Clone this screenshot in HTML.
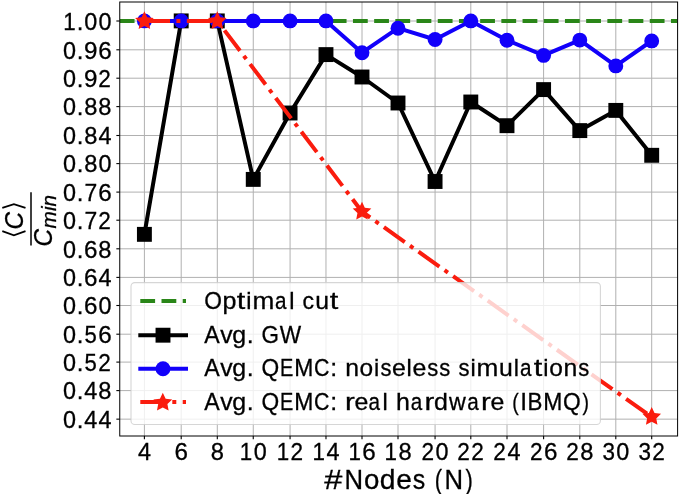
<!DOCTYPE html><html><head><meta charset="utf-8"><style>html,body{margin:0;padding:0;background:#fff;}svg{display:block;will-change:transform;}text{stroke:#000;stroke-width:0.3px;}</style></head><body><svg width="685" height="494" viewBox="0 0 685 494" font-family="Liberation Sans, sans-serif">
<rect width="685" height="494" fill="#fff"/>
<g stroke="#b0b0b0" stroke-width="1.0"><line x1="144.40" y1="2.0" x2="144.40" y2="436.0"/><line x1="181.20" y1="2.0" x2="181.20" y2="436.0"/><line x1="217.30" y1="2.0" x2="217.30" y2="436.0"/><line x1="253.25" y1="2.0" x2="253.25" y2="436.0"/><line x1="290.07" y1="2.0" x2="290.07" y2="436.0"/><line x1="325.98" y1="2.0" x2="325.98" y2="436.0"/><line x1="362.00" y1="2.0" x2="362.00" y2="436.0"/><line x1="398.00" y1="2.0" x2="398.00" y2="436.0"/><line x1="435.07" y1="2.0" x2="435.07" y2="436.0"/><line x1="470.80" y1="2.0" x2="470.80" y2="436.0"/><line x1="507.00" y1="2.0" x2="507.00" y2="436.0"/><line x1="543.60" y1="2.0" x2="543.60" y2="436.0"/><line x1="579.80" y1="2.0" x2="579.80" y2="436.0"/><line x1="615.80" y1="2.0" x2="615.80" y2="436.0"/><line x1="651.70" y1="2.0" x2="651.70" y2="436.0"/><line x1="119.75" y1="419.15" x2="677.6" y2="419.15"/><line x1="119.75" y1="390.60" x2="677.6" y2="390.60"/><line x1="119.75" y1="362.10" x2="677.6" y2="362.10"/><line x1="119.75" y1="334.20" x2="677.6" y2="334.20"/><line x1="119.75" y1="305.50" x2="677.6" y2="305.50"/><line x1="119.75" y1="277.40" x2="677.6" y2="277.40"/><line x1="119.75" y1="248.80" x2="677.6" y2="248.80"/><line x1="119.75" y1="220.20" x2="677.6" y2="220.20"/><line x1="119.75" y1="192.10" x2="677.6" y2="192.10"/><line x1="119.75" y1="163.60" x2="677.6" y2="163.60"/><line x1="119.75" y1="135.50" x2="677.6" y2="135.50"/><line x1="119.75" y1="106.60" x2="677.6" y2="106.60"/><line x1="119.75" y1="78.20" x2="677.6" y2="78.20"/><line x1="119.75" y1="49.80" x2="677.6" y2="49.80"/><line x1="119.75" y1="21.00" x2="677.6" y2="21.00"/></g>
<defs><clipPath id="ax"><rect x="119.75" y="2.0" width="557.85" height="434.0"/></clipPath></defs>
<g clip-path="url(#ax)">
<line x1="119.75" y1="21.00" x2="677.6" y2="21.00" stroke="#2a8618" stroke-width="4.0" stroke-dasharray="14.80 6.40"/>
<polyline points="144.40,234.35 181.20,20.90 217.30,20.90 253.25,179.40 290.07,113.00 325.98,54.60 362.00,77.00 398.00,103.00 435.07,181.50 470.80,102.00 507.00,125.70 543.60,89.60 579.80,130.60 615.80,110.40 651.70,155.30" fill="none" stroke="#000" stroke-width="4.0" stroke-linejoin="round" stroke-linecap="square"/>
<rect x="136.95" y="226.90" width="14.9" height="14.9" fill="#000"/>
<rect x="173.75" y="13.45" width="14.9" height="14.9" fill="#000"/>
<rect x="209.85" y="13.45" width="14.9" height="14.9" fill="#000"/>
<rect x="245.80" y="171.95" width="14.9" height="14.9" fill="#000"/>
<rect x="282.62" y="105.55" width="14.9" height="14.9" fill="#000"/>
<rect x="318.53" y="47.15" width="14.9" height="14.9" fill="#000"/>
<rect x="354.55" y="69.55" width="14.9" height="14.9" fill="#000"/>
<rect x="390.55" y="95.55" width="14.9" height="14.9" fill="#000"/>
<rect x="427.62" y="174.05" width="14.9" height="14.9" fill="#000"/>
<rect x="463.35" y="94.55" width="14.9" height="14.9" fill="#000"/>
<rect x="499.55" y="118.25" width="14.9" height="14.9" fill="#000"/>
<rect x="536.15" y="82.15" width="14.9" height="14.9" fill="#000"/>
<rect x="572.35" y="123.15" width="14.9" height="14.9" fill="#000"/>
<rect x="608.35" y="102.95" width="14.9" height="14.9" fill="#000"/>
<rect x="644.25" y="147.85" width="14.9" height="14.9" fill="#000"/>
<polyline points="144.40,20.90 181.20,20.90 217.30,20.90 253.25,20.90 290.07,20.90 325.98,20.90 362.00,52.70 398.00,28.20 435.07,39.50 470.80,20.90 507.00,40.20 543.60,55.40 579.80,40.10 615.80,65.90 651.70,40.90" fill="none" stroke="#1200fa" stroke-width="4.0" stroke-linejoin="round" stroke-linecap="square"/>
<circle cx="144.40" cy="20.90" r="7.45" fill="#1200fa"/>
<circle cx="181.20" cy="20.90" r="7.45" fill="#1200fa"/>
<circle cx="217.30" cy="20.90" r="7.45" fill="#1200fa"/>
<circle cx="253.25" cy="20.90" r="7.45" fill="#1200fa"/>
<circle cx="290.07" cy="20.90" r="7.45" fill="#1200fa"/>
<circle cx="325.98" cy="20.90" r="7.45" fill="#1200fa"/>
<circle cx="362.00" cy="52.70" r="7.45" fill="#1200fa"/>
<circle cx="398.00" cy="28.20" r="7.45" fill="#1200fa"/>
<circle cx="435.07" cy="39.50" r="7.45" fill="#1200fa"/>
<circle cx="470.80" cy="20.90" r="7.45" fill="#1200fa"/>
<circle cx="507.00" cy="40.20" r="7.45" fill="#1200fa"/>
<circle cx="543.60" cy="55.40" r="7.45" fill="#1200fa"/>
<circle cx="579.80" cy="40.10" r="7.45" fill="#1200fa"/>
<circle cx="615.80" cy="65.90" r="7.45" fill="#1200fa"/>
<circle cx="651.70" cy="40.90" r="7.45" fill="#1200fa"/>
<polyline points="144.40,20.90 181.20,20.90 217.30,20.90 362.00,211.70 651.70,416.90" fill="none" stroke="#fa1c0e" stroke-width="4.0" stroke-linejoin="round" stroke-dasharray="25.60 6.40 4.00 6.40"/>
<polygon points="144.40,11.30 147.22,17.22 153.72,18.07 148.97,22.58 150.16,29.03 144.40,25.90 138.64,29.03 139.83,22.58 135.08,18.07 141.58,17.22" fill="#fa1c0e"/>
<polygon points="217.30,11.30 220.12,17.22 226.62,18.07 221.87,22.58 223.06,29.03 217.30,25.90 211.54,29.03 212.73,22.58 207.98,18.07 214.48,17.22" fill="#fa1c0e"/>
<polygon points="362.00,201.80 364.82,207.72 371.32,208.57 366.57,213.08 367.76,219.53 362.00,216.40 356.24,219.53 357.43,213.08 352.68,208.57 359.18,207.72" fill="#fa1c0e"/>
<polygon points="651.70,407.10 654.52,413.02 661.02,413.87 656.27,418.38 657.46,424.83 651.70,421.70 645.94,424.83 647.13,418.38 642.38,413.87 648.88,413.02" fill="#fa1c0e"/>
</g>
<rect x="131" y="282.6" width="469.4" height="141.89999999999998" rx="3.8" fill="#fff" fill-opacity="0.8" stroke="#cccccc" stroke-opacity="0.8" stroke-width="1.1"/>
<line x1="140.3" y1="300.9" x2="186.0" y2="300.9" stroke="#2a8618" stroke-width="4.0" stroke-dasharray="14.80 6.40"/>
<line x1="140.3" y1="335.2" x2="186.0" y2="335.2" stroke="#000" stroke-width="4.0" stroke-linecap="square"/>
<rect x="155.55" y="327.75" width="14.9" height="14.9" fill="#000"/>
<line x1="140.3" y1="368.7" x2="186.0" y2="368.7" stroke="#1200fa" stroke-width="4.0" stroke-linecap="square"/>
<circle cx="163" cy="368.7" r="7.45" fill="#1200fa"/>
<line x1="140.3" y1="402.1" x2="186.0" y2="402.1" stroke="#fa1c0e" stroke-width="4.0" stroke-dasharray="25.60 6.40 4.00 6.40"/>
<polygon points="162.80,392.70 165.65,398.68 172.22,399.54 167.41,404.10 168.62,410.61 162.80,407.45 156.98,410.61 158.19,404.10 153.38,399.54 159.95,398.68" fill="#fa1c0e"/>
<text y="308.80" font-size="24.33" fill="#000"><tspan x="204.21" textLength="17.69" lengthAdjust="spacingAndGlyphs">O</tspan><tspan x="222.58" textLength="13.92" lengthAdjust="spacingAndGlyphs">p</tspan><tspan x="236.86" textLength="8.54" lengthAdjust="spacingAndGlyphs">t</tspan><tspan x="246.32" textLength="5.22" lengthAdjust="spacingAndGlyphs">i</tspan><tspan x="252.46" textLength="21.83" lengthAdjust="spacingAndGlyphs">m</tspan><tspan x="275.02" textLength="11.50" lengthAdjust="spacingAndGlyphs">a</tspan><tspan x="289.19" textLength="5.22" lengthAdjust="spacingAndGlyphs">l</tspan> <tspan x="302.60" textLength="11.54" lengthAdjust="spacingAndGlyphs">c</tspan><tspan x="315.30" textLength="13.79" lengthAdjust="spacingAndGlyphs">u</tspan><tspan x="329.69" textLength="8.54" lengthAdjust="spacingAndGlyphs">t</tspan></text>
<text y="342.50" font-size="24.33" fill="#000"><tspan x="204.13" textLength="15.45" lengthAdjust="spacingAndGlyphs">A</tspan><tspan x="220.33" textLength="12.41" lengthAdjust="spacingAndGlyphs">v</tspan><tspan x="232.22" textLength="13.90" lengthAdjust="spacingAndGlyphs">g</tspan><tspan x="246.78" textLength="6.91" lengthAdjust="spacingAndGlyphs">.</tspan> <tspan x="261.38" textLength="17.45" lengthAdjust="spacingAndGlyphs">G</tspan><tspan x="279.71" textLength="21.40" lengthAdjust="spacingAndGlyphs">W</tspan></text>
<text y="376.20" font-size="24.33" fill="#000"><tspan x="204.13" textLength="15.45" lengthAdjust="spacingAndGlyphs">A</tspan><tspan x="220.33" textLength="12.41" lengthAdjust="spacingAndGlyphs">v</tspan><tspan x="232.22" textLength="13.90" lengthAdjust="spacingAndGlyphs">g</tspan><tspan x="246.78" textLength="6.91" lengthAdjust="spacingAndGlyphs">.</tspan> <tspan x="261.43" textLength="17.69" lengthAdjust="spacingAndGlyphs">Q</tspan><tspan x="279.94" textLength="13.30" lengthAdjust="spacingAndGlyphs">E</tspan><tspan x="294.23" textLength="19.10" lengthAdjust="spacingAndGlyphs">M</tspan><tspan x="313.91" textLength="15.42" lengthAdjust="spacingAndGlyphs">C</tspan><tspan x="330.18" textLength="6.91" lengthAdjust="spacingAndGlyphs">:</tspan> <tspan x="345.26" textLength="13.79" lengthAdjust="spacingAndGlyphs">n</tspan><tspan x="359.64" textLength="13.60" lengthAdjust="spacingAndGlyphs">o</tspan><tspan x="374.06" textLength="5.22" lengthAdjust="spacingAndGlyphs">i</tspan><tspan x="380.49" textLength="11.02" lengthAdjust="spacingAndGlyphs">s</tspan><tspan x="392.05" textLength="13.82" lengthAdjust="spacingAndGlyphs">e</tspan><tspan x="406.57" textLength="5.22" lengthAdjust="spacingAndGlyphs">l</tspan><tspan x="412.60" textLength="13.82" lengthAdjust="spacingAndGlyphs">e</tspan><tspan x="427.16" textLength="11.02" lengthAdjust="spacingAndGlyphs">s</tspan><tspan x="439.15" textLength="11.02" lengthAdjust="spacingAndGlyphs">s</tspan> <tspan x="458.44" textLength="11.02" lengthAdjust="spacingAndGlyphs">s</tspan><tspan x="470.39" textLength="5.22" lengthAdjust="spacingAndGlyphs">i</tspan><tspan x="476.53" textLength="21.83" lengthAdjust="spacingAndGlyphs">m</tspan><tspan x="498.93" textLength="13.79" lengthAdjust="spacingAndGlyphs">u</tspan><tspan x="513.75" textLength="5.22" lengthAdjust="spacingAndGlyphs">l</tspan><tspan x="520.06" textLength="11.50" lengthAdjust="spacingAndGlyphs">a</tspan><tspan x="533.80" textLength="8.54" lengthAdjust="spacingAndGlyphs">t</tspan><tspan x="543.26" textLength="5.22" lengthAdjust="spacingAndGlyphs">i</tspan><tspan x="549.30" textLength="13.60" lengthAdjust="spacingAndGlyphs">o</tspan><tspan x="563.57" textLength="13.79" lengthAdjust="spacingAndGlyphs">n</tspan><tspan x="578.34" textLength="11.02" lengthAdjust="spacingAndGlyphs">s</tspan></text>
<text y="409.90" font-size="24.33" fill="#000"><tspan x="204.13" textLength="15.45" lengthAdjust="spacingAndGlyphs">A</tspan><tspan x="220.33" textLength="12.41" lengthAdjust="spacingAndGlyphs">v</tspan><tspan x="232.22" textLength="13.90" lengthAdjust="spacingAndGlyphs">g</tspan><tspan x="246.78" textLength="6.91" lengthAdjust="spacingAndGlyphs">.</tspan> <tspan x="261.43" textLength="17.69" lengthAdjust="spacingAndGlyphs">Q</tspan><tspan x="279.94" textLength="13.30" lengthAdjust="spacingAndGlyphs">E</tspan><tspan x="294.23" textLength="19.10" lengthAdjust="spacingAndGlyphs">M</tspan><tspan x="313.91" textLength="15.42" lengthAdjust="spacingAndGlyphs">C</tspan><tspan x="330.18" textLength="6.91" lengthAdjust="spacingAndGlyphs">:</tspan> <tspan x="344.95" textLength="9.81" lengthAdjust="spacingAndGlyphs">r</tspan><tspan x="354.49" textLength="13.82" lengthAdjust="spacingAndGlyphs">e</tspan><tspan x="368.42" textLength="11.50" lengthAdjust="spacingAndGlyphs">a</tspan><tspan x="382.60" textLength="5.22" lengthAdjust="spacingAndGlyphs">l</tspan> <tspan x="396.07" textLength="13.89" lengthAdjust="spacingAndGlyphs">h</tspan><tspan x="410.80" textLength="11.50" lengthAdjust="spacingAndGlyphs">a</tspan><tspan x="424.52" textLength="9.81" lengthAdjust="spacingAndGlyphs">r</tspan><tspan x="434.06" textLength="13.90" lengthAdjust="spacingAndGlyphs">d</tspan><tspan x="449.04" textLength="16.79" lengthAdjust="spacingAndGlyphs">w</tspan><tspan x="467.35" textLength="11.50" lengthAdjust="spacingAndGlyphs">a</tspan><tspan x="481.08" textLength="9.81" lengthAdjust="spacingAndGlyphs">r</tspan><tspan x="490.61" textLength="13.82" lengthAdjust="spacingAndGlyphs">e</tspan> <tspan x="512.13" textLength="6.47" lengthAdjust="spacingAndGlyphs">(</tspan><tspan x="520.34" textLength="6.76" lengthAdjust="spacingAndGlyphs">I</tspan><tspan x="527.54" textLength="14.90" lengthAdjust="spacingAndGlyphs">B</tspan><tspan x="543.27" textLength="19.10" lengthAdjust="spacingAndGlyphs">M</tspan><tspan x="562.95" textLength="17.69" lengthAdjust="spacingAndGlyphs">Q</tspan><tspan x="582.57" textLength="6.47" lengthAdjust="spacingAndGlyphs">)</tspan></text>
<rect x="119.75" y="2.0" width="557.85" height="434.0" fill="none" stroke="#000" stroke-width="1.0"/>
<g stroke="#000" stroke-width="1.1"><line x1="144.40" y1="436.0" x2="144.40" y2="439.3"/><line x1="181.20" y1="436.0" x2="181.20" y2="439.3"/><line x1="217.30" y1="436.0" x2="217.30" y2="439.3"/><line x1="253.25" y1="436.0" x2="253.25" y2="439.3"/><line x1="290.07" y1="436.0" x2="290.07" y2="439.3"/><line x1="325.98" y1="436.0" x2="325.98" y2="439.3"/><line x1="362.00" y1="436.0" x2="362.00" y2="439.3"/><line x1="398.00" y1="436.0" x2="398.00" y2="439.3"/><line x1="435.07" y1="436.0" x2="435.07" y2="439.3"/><line x1="470.80" y1="436.0" x2="470.80" y2="439.3"/><line x1="507.00" y1="436.0" x2="507.00" y2="439.3"/><line x1="543.60" y1="436.0" x2="543.60" y2="439.3"/><line x1="579.80" y1="436.0" x2="579.80" y2="439.3"/><line x1="615.80" y1="436.0" x2="615.80" y2="439.3"/><line x1="651.70" y1="436.0" x2="651.70" y2="439.3"/><line x1="116.35" y1="419.15" x2="119.75" y2="419.15"/><line x1="116.35" y1="390.60" x2="119.75" y2="390.60"/><line x1="116.35" y1="362.10" x2="119.75" y2="362.10"/><line x1="116.35" y1="334.20" x2="119.75" y2="334.20"/><line x1="116.35" y1="305.50" x2="119.75" y2="305.50"/><line x1="116.35" y1="277.40" x2="119.75" y2="277.40"/><line x1="116.35" y1="248.80" x2="119.75" y2="248.80"/><line x1="116.35" y1="220.20" x2="119.75" y2="220.20"/><line x1="116.35" y1="192.10" x2="119.75" y2="192.10"/><line x1="116.35" y1="163.60" x2="119.75" y2="163.60"/><line x1="116.35" y1="135.50" x2="119.75" y2="135.50"/><line x1="116.35" y1="106.60" x2="119.75" y2="106.60"/><line x1="116.35" y1="78.20" x2="119.75" y2="78.20"/><line x1="116.35" y1="49.80" x2="119.75" y2="49.80"/><line x1="116.35" y1="21.00" x2="119.75" y2="21.00"/></g>
<text y="459.70" font-size="23.49" fill="#000"><tspan x="137.88" textLength="13.02" lengthAdjust="spacingAndGlyphs">4</tspan></text>
<text y="459.70" font-size="23.49" fill="#000"><tspan x="174.46" textLength="13.47" lengthAdjust="spacingAndGlyphs">6</tspan></text>
<text y="459.70" font-size="23.49" fill="#000"><tspan x="210.72" textLength="13.16" lengthAdjust="spacingAndGlyphs">8</tspan></text>
<text y="459.70" font-size="23.49" fill="#000"><tspan x="239.86" textLength="12.43" lengthAdjust="spacingAndGlyphs">1</tspan><tspan x="253.80" textLength="13.01" lengthAdjust="spacingAndGlyphs">0</tspan></text>
<text y="459.70" font-size="23.49" fill="#000"><tspan x="276.68" textLength="12.43" lengthAdjust="spacingAndGlyphs">1</tspan><tspan x="290.56" textLength="12.55" lengthAdjust="spacingAndGlyphs">2</tspan></text>
<text y="459.70" font-size="23.49" fill="#000"><tspan x="312.59" textLength="12.43" lengthAdjust="spacingAndGlyphs">1</tspan><tspan x="326.53" textLength="13.02" lengthAdjust="spacingAndGlyphs">4</tspan></text>
<text y="459.70" font-size="23.49" fill="#000"><tspan x="348.61" textLength="12.43" lengthAdjust="spacingAndGlyphs">1</tspan><tspan x="362.32" textLength="13.47" lengthAdjust="spacingAndGlyphs">6</tspan></text>
<text y="459.70" font-size="23.49" fill="#000"><tspan x="384.61" textLength="12.43" lengthAdjust="spacingAndGlyphs">1</tspan><tspan x="398.48" textLength="13.16" lengthAdjust="spacingAndGlyphs">8</tspan></text>
<text y="459.70" font-size="23.49" fill="#000"><tspan x="421.44" textLength="12.55" lengthAdjust="spacingAndGlyphs">2</tspan><tspan x="435.62" textLength="13.01" lengthAdjust="spacingAndGlyphs">0</tspan></text>
<text y="459.70" font-size="23.49" fill="#000"><tspan x="457.17" textLength="12.55" lengthAdjust="spacingAndGlyphs">2</tspan><tspan x="471.29" textLength="12.55" lengthAdjust="spacingAndGlyphs">2</tspan></text>
<text y="459.70" font-size="23.49" fill="#000"><tspan x="493.37" textLength="12.55" lengthAdjust="spacingAndGlyphs">2</tspan><tspan x="507.55" textLength="13.02" lengthAdjust="spacingAndGlyphs">4</tspan></text>
<text y="459.70" font-size="23.49" fill="#000"><tspan x="529.97" textLength="12.55" lengthAdjust="spacingAndGlyphs">2</tspan><tspan x="543.92" textLength="13.47" lengthAdjust="spacingAndGlyphs">6</tspan></text>
<text y="459.70" font-size="23.49" fill="#000"><tspan x="566.17" textLength="12.55" lengthAdjust="spacingAndGlyphs">2</tspan><tspan x="580.28" textLength="13.16" lengthAdjust="spacingAndGlyphs">8</tspan></text>
<text y="459.70" font-size="23.49" fill="#000"><tspan x="602.51" textLength="12.50" lengthAdjust="spacingAndGlyphs">3</tspan><tspan x="616.35" textLength="13.01" lengthAdjust="spacingAndGlyphs">0</tspan></text>
<text y="459.70" font-size="23.49" fill="#000"><tspan x="638.41" textLength="12.50" lengthAdjust="spacingAndGlyphs">3</tspan><tspan x="652.19" textLength="12.55" lengthAdjust="spacingAndGlyphs">2</tspan></text>
<text y="427.85" font-size="23.49" fill="#000"><tspan x="63.12" textLength="13.01" lengthAdjust="spacingAndGlyphs">0</tspan><tspan x="76.88" textLength="6.67" lengthAdjust="spacingAndGlyphs">.</tspan><tspan x="84.30" textLength="13.02" lengthAdjust="spacingAndGlyphs">4</tspan><tspan x="98.42" textLength="13.02" lengthAdjust="spacingAndGlyphs">4</tspan></text>
<text y="399.30" font-size="23.49" fill="#000"><tspan x="63.12" textLength="13.01" lengthAdjust="spacingAndGlyphs">0</tspan><tspan x="76.88" textLength="6.67" lengthAdjust="spacingAndGlyphs">.</tspan><tspan x="84.30" textLength="13.02" lengthAdjust="spacingAndGlyphs">4</tspan><tspan x="98.35" textLength="13.16" lengthAdjust="spacingAndGlyphs">8</tspan></text>
<text y="370.80" font-size="23.49" fill="#000"><tspan x="63.12" textLength="13.01" lengthAdjust="spacingAndGlyphs">0</tspan><tspan x="76.88" textLength="6.67" lengthAdjust="spacingAndGlyphs">.</tspan><tspan x="84.58" textLength="12.28" lengthAdjust="spacingAndGlyphs">5</tspan><tspan x="98.37" textLength="12.55" lengthAdjust="spacingAndGlyphs">2</tspan></text>
<text y="342.90" font-size="23.49" fill="#000"><tspan x="63.12" textLength="13.01" lengthAdjust="spacingAndGlyphs">0</tspan><tspan x="76.88" textLength="6.67" lengthAdjust="spacingAndGlyphs">.</tspan><tspan x="84.58" textLength="12.28" lengthAdjust="spacingAndGlyphs">5</tspan><tspan x="98.20" textLength="13.47" lengthAdjust="spacingAndGlyphs">6</tspan></text>
<text y="314.20" font-size="23.49" fill="#000"><tspan x="63.12" textLength="13.01" lengthAdjust="spacingAndGlyphs">0</tspan><tspan x="76.88" textLength="6.67" lengthAdjust="spacingAndGlyphs">.</tspan><tspan x="84.07" textLength="13.47" lengthAdjust="spacingAndGlyphs">6</tspan><tspan x="98.42" textLength="13.01" lengthAdjust="spacingAndGlyphs">0</tspan></text>
<text y="286.10" font-size="23.49" fill="#000"><tspan x="63.12" textLength="13.01" lengthAdjust="spacingAndGlyphs">0</tspan><tspan x="76.88" textLength="6.67" lengthAdjust="spacingAndGlyphs">.</tspan><tspan x="84.07" textLength="13.47" lengthAdjust="spacingAndGlyphs">6</tspan><tspan x="98.42" textLength="13.02" lengthAdjust="spacingAndGlyphs">4</tspan></text>
<text y="257.50" font-size="23.49" fill="#000"><tspan x="63.12" textLength="13.01" lengthAdjust="spacingAndGlyphs">0</tspan><tspan x="76.88" textLength="6.67" lengthAdjust="spacingAndGlyphs">.</tspan><tspan x="84.07" textLength="13.47" lengthAdjust="spacingAndGlyphs">6</tspan><tspan x="98.35" textLength="13.16" lengthAdjust="spacingAndGlyphs">8</tspan></text>
<text y="228.90" font-size="23.49" fill="#000"><tspan x="63.12" textLength="13.01" lengthAdjust="spacingAndGlyphs">0</tspan><tspan x="76.88" textLength="6.67" lengthAdjust="spacingAndGlyphs">.</tspan><tspan x="84.40" textLength="12.73" lengthAdjust="spacingAndGlyphs">7</tspan><tspan x="98.37" textLength="12.55" lengthAdjust="spacingAndGlyphs">2</tspan></text>
<text y="200.80" font-size="23.49" fill="#000"><tspan x="63.12" textLength="13.01" lengthAdjust="spacingAndGlyphs">0</tspan><tspan x="76.88" textLength="6.67" lengthAdjust="spacingAndGlyphs">.</tspan><tspan x="84.40" textLength="12.73" lengthAdjust="spacingAndGlyphs">7</tspan><tspan x="98.20" textLength="13.47" lengthAdjust="spacingAndGlyphs">6</tspan></text>
<text y="172.30" font-size="23.49" fill="#000"><tspan x="63.12" textLength="13.01" lengthAdjust="spacingAndGlyphs">0</tspan><tspan x="76.88" textLength="6.67" lengthAdjust="spacingAndGlyphs">.</tspan><tspan x="84.23" textLength="13.16" lengthAdjust="spacingAndGlyphs">8</tspan><tspan x="98.42" textLength="13.01" lengthAdjust="spacingAndGlyphs">0</tspan></text>
<text y="144.20" font-size="23.49" fill="#000"><tspan x="63.12" textLength="13.01" lengthAdjust="spacingAndGlyphs">0</tspan><tspan x="76.88" textLength="6.67" lengthAdjust="spacingAndGlyphs">.</tspan><tspan x="84.23" textLength="13.16" lengthAdjust="spacingAndGlyphs">8</tspan><tspan x="98.42" textLength="13.02" lengthAdjust="spacingAndGlyphs">4</tspan></text>
<text y="115.30" font-size="23.49" fill="#000"><tspan x="63.12" textLength="13.01" lengthAdjust="spacingAndGlyphs">0</tspan><tspan x="76.88" textLength="6.67" lengthAdjust="spacingAndGlyphs">.</tspan><tspan x="84.23" textLength="13.16" lengthAdjust="spacingAndGlyphs">8</tspan><tspan x="98.35" textLength="13.16" lengthAdjust="spacingAndGlyphs">8</tspan></text>
<text y="86.90" font-size="23.49" fill="#000"><tspan x="63.12" textLength="13.01" lengthAdjust="spacingAndGlyphs">0</tspan><tspan x="76.88" textLength="6.67" lengthAdjust="spacingAndGlyphs">.</tspan><tspan x="84.02" textLength="13.44" lengthAdjust="spacingAndGlyphs">9</tspan><tspan x="98.37" textLength="12.55" lengthAdjust="spacingAndGlyphs">2</tspan></text>
<text y="58.50" font-size="23.49" fill="#000"><tspan x="63.12" textLength="13.01" lengthAdjust="spacingAndGlyphs">0</tspan><tspan x="76.88" textLength="6.67" lengthAdjust="spacingAndGlyphs">.</tspan><tspan x="84.02" textLength="13.44" lengthAdjust="spacingAndGlyphs">9</tspan><tspan x="98.20" textLength="13.47" lengthAdjust="spacingAndGlyphs">6</tspan></text>
<text y="29.70" font-size="23.49" fill="#000"><tspan x="63.31" textLength="12.43" lengthAdjust="spacingAndGlyphs">1</tspan><tspan x="76.88" textLength="6.67" lengthAdjust="spacingAndGlyphs">.</tspan><tspan x="84.30" textLength="13.01" lengthAdjust="spacingAndGlyphs">0</tspan><tspan x="98.42" textLength="13.01" lengthAdjust="spacingAndGlyphs">0</tspan></text>
<text y="489.20" font-size="27.51" fill="#000"><tspan x="324.26" textLength="18.09" lengthAdjust="spacingAndGlyphs">#</tspan><tspan x="344.62" textLength="18.55" lengthAdjust="spacingAndGlyphs">N</tspan><tspan x="363.90" textLength="15.37" lengthAdjust="spacingAndGlyphs">o</tspan><tspan x="379.78" textLength="15.72" lengthAdjust="spacingAndGlyphs">d</tspan><tspan x="396.28" textLength="15.62" lengthAdjust="spacingAndGlyphs">e</tspan><tspan x="412.75" textLength="12.46" lengthAdjust="spacingAndGlyphs">s</tspan> <tspan x="434.72" textLength="7.32" lengthAdjust="spacingAndGlyphs">(</tspan><tspan x="444.43" textLength="18.55" lengthAdjust="spacingAndGlyphs">N</tspan><tspan x="465.39" textLength="7.32" lengthAdjust="spacingAndGlyphs">)</tspan></text>
<g transform="translate(31.2,219) rotate(-90)"><line x1="-26.5" y1="-0.2" x2="26.7" y2="-0.2" stroke="#000" stroke-width="1.5"/><polyline points="-12.2,-28.9 -16.3,-17.3 -12.2,-5.7" fill="none" stroke="#000" stroke-width="1.8"/><polyline points="11.1,-28.9 14.8,-17.3 11.1,-5.7" fill="none" stroke="#000" stroke-width="1.8"/><text x="-10.44" y="-8.70" font-size="25.5" textLength="17.62" lengthAdjust="spacingAndGlyphs" font-style="italic" fill="#000">C</text><text x="-27.44" y="20.50" font-size="25.5" textLength="17.62" lengthAdjust="spacingAndGlyphs" font-style="italic" fill="#000">C</text><text x="-9.45" y="24.80" font-size="19.5" textLength="33.50" lengthAdjust="spacingAndGlyphs" font-style="italic" fill="#000">min</text></g>
</svg></body></html>
